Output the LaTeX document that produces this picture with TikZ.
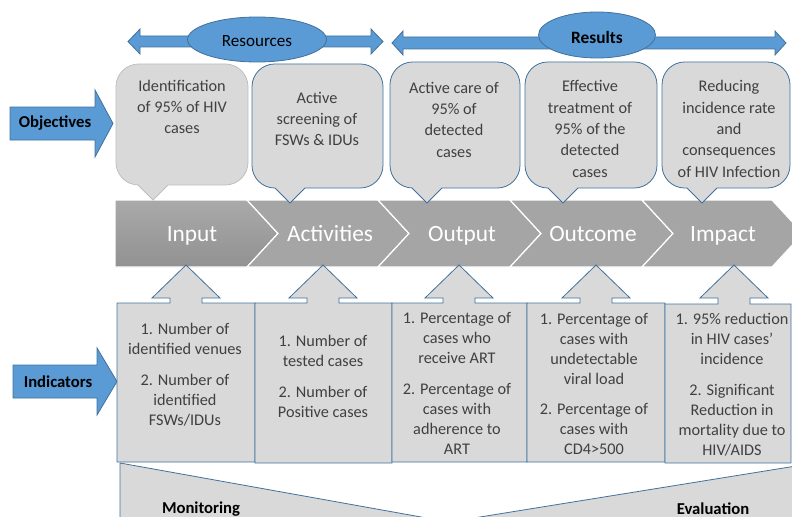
\documentclass[tikz,border=0pt]{standalone}
\usepackage{fontspec}
\setmainfont{Carlito}

\definecolor{arrowblue}{HTML}{5B9BD5}
\definecolor{edgeblue}{HTML}{41719C}
\definecolor{boxgray}{HTML}{D9D9D9}
\definecolor{boxedge}{HTML}{BFBFBF}
\definecolor{bandgray}{HTML}{A5A5A5}
\definecolor{textgray}{HTML}{404040}

\tikzstyle{callout}=[fill=boxgray, draw=edgeblue, line width=0.6pt]
\tikzstyle{indbox}=[fill=boxgray, draw=edgeblue, line width=0.6pt]
\tikzstyle{chevron}=[fill=bandgray, draw=white, line width=0.9pt]
\tikzstyle{bluearrow}=[fill=arrowblue, draw=edgeblue, line width=0.6pt]
\tikzstyle{objtext}=[text=textgray, align=center, inner sep=0pt,
    font=\fontsize{12.2}{16}\selectfont]
\tikzstyle{indtext}=[text=textgray, align=center, inner sep=0pt,
    font=\fontsize{12.2}{15}\selectfont]
\tikzstyle{steptext}=[text=white, inner sep=0pt, anchor=base,
    font=\fontsize{17.5}{20}\selectfont]
\tikzstyle{headtext}=[inner sep=0pt, font=\bfseries\fontsize{12.5}{15}\selectfont]

\begin{document}
\begin{tikzpicture}[x=0.75pt, y=-0.75pt]
    \useasboundingbox (0,0) rectangle (792,517);

    % resources / results
    \draw[bluearrow] (128,41.5) -- (140,29) -- (140,36) -- (371,36) -- (371,29)
        -- (383,41.5) -- (371,54) -- (371,47) -- (140,47) -- (140,54) -- cycle;
    \draw[bluearrow] (392,43) -- (403,31) -- (403,37) -- (775,37) -- (775,31)
        -- (786,43) -- (775,55) -- (775,49) -- (403,49) -- (403,55) -- cycle;
    \draw[bluearrow] (257,39.5) ellipse [x radius=69.5, y radius=22.5];
    \draw[bluearrow] (597,35) ellipse [x radius=58.5, y radius=23];
    \node (res) at (257,41) {\fontsize{12.8}{15}\selectfont Resources};
    \node[headtext] (rslt) at (597,37) {\fontsize{13}{15}\selectfont Results};

    % objectives / indicators arrows
    \draw[bluearrow] (10,107) -- (95,107) -- (95,90) -- (113,123.5) -- (95,157)
        -- (95,140) -- (10,140) -- cycle;
    \node[headtext] (obj) at (55,123.5) {Objectives};
    \draw[bluearrow] (13,365) -- (97,365) -- (97,348) -- (117,381.5) -- (97,415)
        -- (97,398) -- (13,398) -- cycle;
    \node[headtext] (ind) at (58,381.5) {Indicators};

    % chain of steps
    \draw[chevron, top color=bandgray!95!white, bottom color=bandgray!88!black]
        (115,200) -- (247,200) -- (278,233.5) -- (247,267) -- (115,267) -- cycle;
    \draw[chevron] (247,200) -- (378,200) -- (409,233.5) -- (378,267) -- (247,267)
        -- (278,233.5) -- cycle;
    \draw[chevron] (378,200) -- (510,200) -- (541,233.5) -- (510,267) -- (378,267)
        -- (409,233.5) -- cycle;
    \draw[chevron] (510,200) -- (642,200) -- (673,233.5) -- (642,267) -- (510,267)
        -- (541,233.5) -- cycle;
    \draw[chevron] (642,200) -- (772,200) -- (803,233.5) -- (772,267) -- (642,267)
        -- (673,233.5) -- cycle;
    \node[steptext] (input) at (192,241) {Input};
    \node[steptext] (activities) at (330,241) {Activities};
    \node[steptext] (output) at (462,241) {Output};
    \node[steptext] (outcome) at (593,241) {Outcome};
    \node[steptext] (impact) at (723,241) {Impact};

    % objectives callouts
    \draw[callout, draw=boxedge] (138,185) [rounded corners=17] -- (116,185) -- (116,64)
        -- (248,64) -- (248,185) [sharp corners] -- (168,185) -- (153,200) -- cycle;
    \draw[callout] (275,188) [rounded corners=17] -- (252,188) -- (252,64)
        -- (383,64) -- (383,188) [sharp corners] -- (305,188) -- (290,203) -- cycle;
    \draw[callout] (412,188) [rounded corners=17] -- (390,188) -- (390,62)
        -- (520,62) -- (520,188) [sharp corners] -- (442,188) -- (427,203) -- cycle;
    \draw[callout] (548,188) [rounded corners=17] -- (525,188) -- (525,62)
        -- (657,62) -- (657,188) [sharp corners] -- (578,188) -- (563,203) -- cycle;
    \draw[callout] (687,188) [rounded corners=17] -- (662,188) -- (662,62)
        -- (790,62) -- (790,188) [sharp corners] -- (717,188) -- (702,203) -- cycle;
    \node[objtext] (obj1) at (182,107) {Identification\\of 95\% of HIV\\cases};
    \node[objtext] (obj2) at (317,119) {Active\\screening of\\FSWs \& IDUs};
    \node[objtext] (obj3) at (454,119.5) {Active care of\\95\% of\\detected\\cases};
    \node[objtext] (obj4) at (590,129) {Effective\\treatment of\\95\% of the\\detected\\cases};
    \node[objtext] (obj5) at (729,129)
        {Reducing\\incidence rate\\and\\consequences\\of HIV Infection};

    % indicator boxes
    \draw[indbox] (117,462) -- (117,303) -- (170,303) -- (170,298) -- (152,298) -- (186,265)
        -- (220,298) -- (202,298) -- (202,303) -- (255,303) -- (255,462) -- cycle;
    \draw[indbox] (255,463) -- (255,303) -- (307,303) -- (307,298) -- (289,298) -- (323,265)
        -- (357,298) -- (339,298) -- (339,303) -- (392,303) -- (392,463) -- cycle;
    \draw[indbox] (392,462) -- (392,303) -- (443,303) -- (443,298) -- (425,298) -- (459,265)
        -- (493,298) -- (475,298) -- (475,303) -- (527,303) -- (527,462) -- cycle;
    \draw[indbox] (527,462) -- (527,303) -- (580,303) -- (580,298) -- (562,298) -- (596,265)
        -- (630,298) -- (612,298) -- (612,303) -- (665,303) -- (665,462) -- cycle;
    \draw[indbox] (665,463) -- (665,304) -- (718,304) -- (718,298) -- (700,298) -- (734,265)
        -- (768,298) -- (750,298) -- (750,304) -- (791,304) -- (791,463) -- cycle;
    \node[indtext] (ind1) at (185,374.5)
        {1. Number of\\identified venues\\[8pt]2. Number of\\identified\\FSWs/IDUs};
    \node[indtext] (ind2) at (323,376.5)
        {1. Number of\\tested cases\\[8pt]2. Number of\\Positive cases};
    \node[indtext] (ind3) at (457,383.5)
        {1. Percentage of\\cases who\\receive ART\\[8pt]2. Percentage of\\cases with\\adherence to\\ART};
    \node[indtext] (ind4) at (594,384)
        {1. Percentage of\\cases with\\undetectable\\viral load\\[8pt]2. Percentage of\\cases with\\CD4>500};
    \node[indtext] (ind5) at (732,385)
        {1. 95\% reduction\\in HIV cases’\\incidence\\[8pt]2. Significant\\Reduction in\\mortality due to\\HIV/AIDS};

    % monitoring and evaluation wedge
    \draw[indbox] (120,463) -- (449,522) -- (796,466) -- (796,530) -- (120,530) -- cycle;
    \node[headtext, anchor=base] (mon) at (201,513) {Monitoring};
    \node[headtext, anchor=base] (eval) at (713,514.5) {Evaluation};
\end{tikzpicture}
\end{document}
